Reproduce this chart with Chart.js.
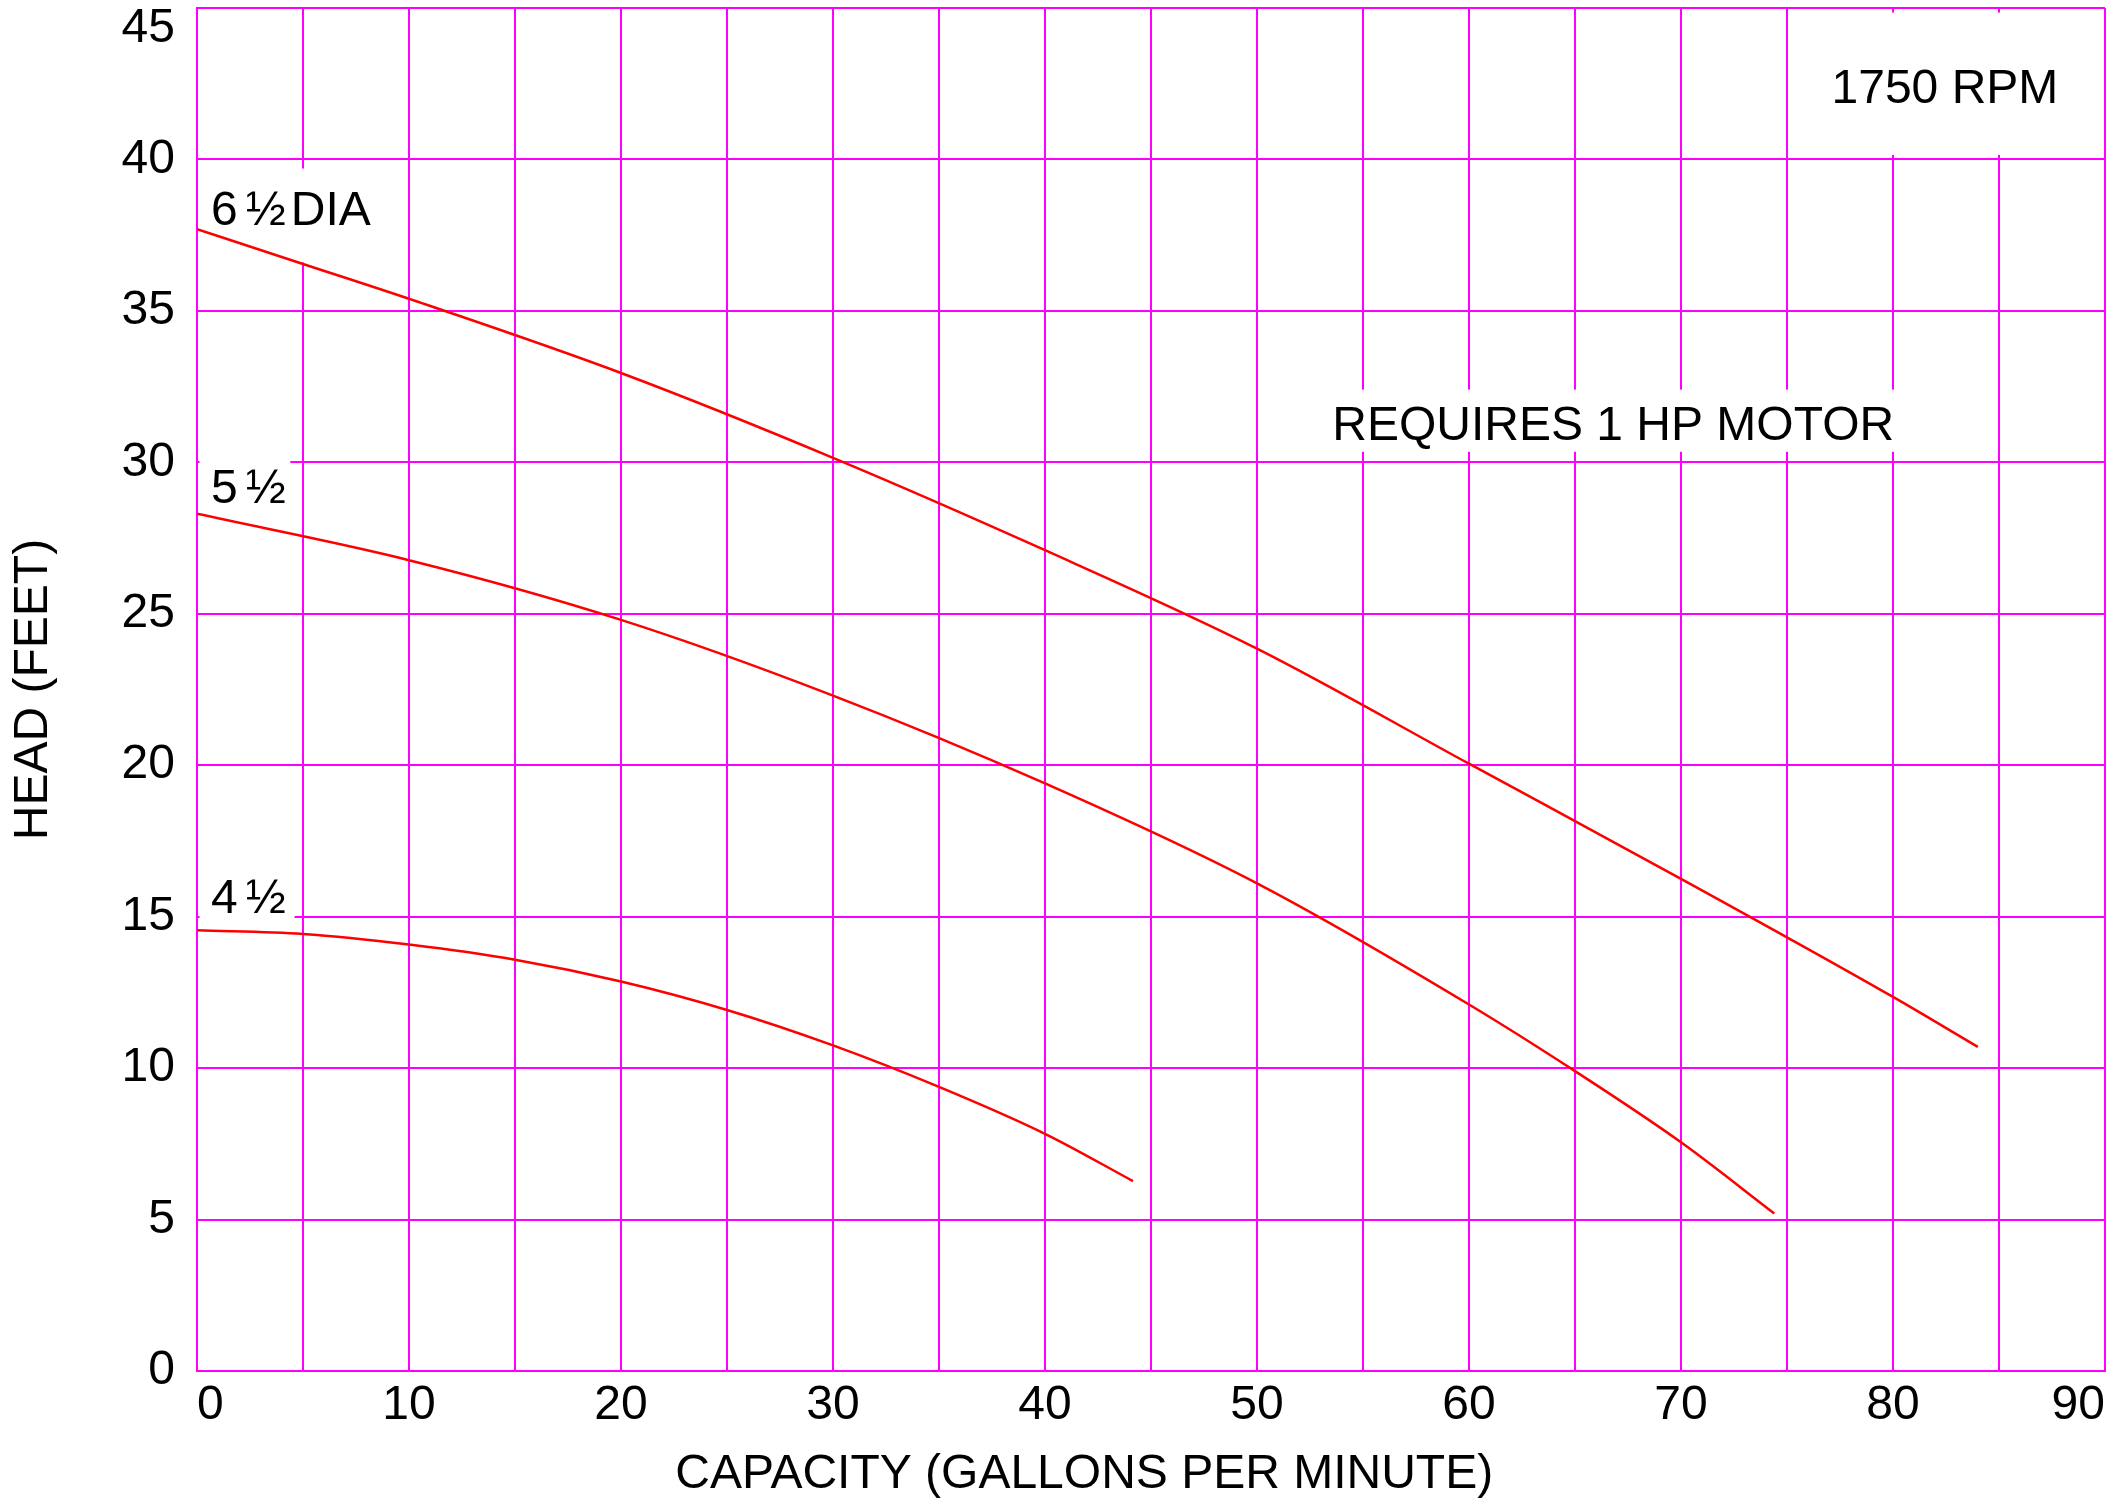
<!DOCTYPE html>
<html>
<head>
<meta charset="utf-8">
<script src="https://cdn.jsdelivr.net/npm/chart.js@4/dist/chart.umd.min.js"></script>
<style>
  html, body { margin: 0; padding: 0; background: #fff; }
  #wrap { width: 2112px; height: 1502px; }
</style>
</head>
<body>
<div id="wrap"><canvas id="chart"></canvas></div>
<script>
// pump curves, capacity (gpm) vs head (ft)
var gpm65 = [0, 5, 10, 20, 30, 40, 50, 60, 70, 80, 84.0];
var head65 = [37.7, 36.55, 35.4, 32.95, 30.15, 27.1, 23.85, 20.05, 16.25, 12.35, 10.7];
var gpm55 = [0, 10, 20, 30, 40, 50, 60, 65, 70, 74.4];
var head55 = [28.3, 26.77, 24.8, 22.3, 19.4, 16.1, 12.1, 9.9, 7.55, 5.2];
var gpm45 = [0, 5, 10, 15, 20, 25, 30, 35, 40, 44.15];
var head45 = [14.55, 14.43, 14.08, 13.58, 12.86, 11.92, 10.75, 9.38, 7.83, 6.27];

var xTicks = [0, 10, 20, 30, 40, 50, 60, 70, 80, 90];
var yTicks = [0, 5, 10, 15, 20, 25, 30, 35, 40, 45];

var FONT = '"Liberation Sans", Arial, sans-serif';
var MAGENTA = '#ff00ff';
var RED = '#ff0000';

function points(xs, ys) {
  return xs.map(function (v, i) { return { x: v, y: ys[i] }; });
}

// white patches where the sheet leaves the grid open for its labels [x0, x1, y0, y1]
var gridGaps = [
  [0.12, 9.0, 36.6, 39.7],
  [0.12, 4.4, 29.5, 30.5],
  [0.12, 4.6, 14.7, 15.5],
  [52.8, 80.4, 30.35, 32.4],
  [75.5, 89.8, 40.15, 44.85]
];

// in-plot notes: parts of text with gap (px) before each part, anchored at data x/y (baseline)
var notes = [
  { x: 0.66, y: 37.83, parts: [['6', 0], ['\u00bd', 8], ['DIA', 5]] },
  { x: 0.66, y: 28.66, parts: [['5', 0], ['\u00bd', 8]] },
  { x: 0.66, y: 15.12, parts: [['4', 0], ['\u00bd', 8]] },
  { x: 53.55, y: 30.74, parts: [['REQUIRES 1 HP MOTOR', 0]] },
  { x: 77.1, y: 41.86, parts: [['1750 RPM', 0]] }
];

var notesPlugin = {
  id: 'notes',
  beforeDatasetsDraw: function (chart) {
    var xs = chart.scales.x, ys = chart.scales.y, ctx = chart.ctx;
    ctx.save();
    ctx.fillStyle = '#ffffff';
    gridGaps.forEach(function (g) {
      var l = xs.getPixelForValue(g[0]), r = xs.getPixelForValue(g[1]);
      var t = ys.getPixelForValue(g[3]), b = ys.getPixelForValue(g[2]);
      ctx.fillRect(l, t, r - l, b - t);
    });
    ctx.restore();
  },
  afterDatasetsDraw: function (chart) {
    var xs = chart.scales.x, ys = chart.scales.y, ctx = chart.ctx;
    ctx.save();
    ctx.fillStyle = '#000000';
    ctx.font = '48px ' + FONT;
    ctx.textAlign = 'left';
    ctx.textBaseline = 'alphabetic';
    notes.forEach(function (n) {
      var px = xs.getPixelForValue(n.x), py = ys.getPixelForValue(n.y);
      n.parts.forEach(function (p) {
        px += p[1];
        ctx.fillText(p[0], px, py);
        px += ctx.measureText(p[0]).width;
      });
    });
    // x axis title, placed as on the sheet (a bit left of the plot centre)
    ctx.textAlign = 'center';
    ctx.fillText('CAPACITY (GALLONS PER MINUTE)', xs.getPixelForValue(41.85), 1488);
    ctx.restore();
  }
};

new Chart(document.getElementById('chart'), {
  type: 'line',
  data: {
    datasets: [
      { label: '6 1/2 DIA', data: points(gpm65, head65) },
      { label: '5 1/2', data: points(gpm55, head55) },
      { label: '4 1/2', data: points(gpm45, head45) }
    ]
  },
  options: {
    responsive: true,
    maintainAspectRatio: false,
    animation: false,
    devicePixelRatio: 1,
    layout: { padding: { left: 0, top: 8, right: 7, bottom: 0 } },
    elements: {
      point: { radius: 0 },
      line: { borderColor: RED, borderWidth: 2.5, cubicInterpolationMode: 'monotone', fill: false }
    },
    plugins: {
      legend: { display: false },
      tooltip: { enabled: false }
    },
    scales: {
      x: {
        type: 'linear',
        min: 0,
        max: 90,
        grid: { color: MAGENTA, lineWidth: 2, drawTicks: false },
        border: { color: MAGENTA, width: 2 },
        ticks: {
          stepSize: 5,
          align: 'inner',
          padding: 6,
          color: '#000',
          font: { family: FONT, size: 48 },
          callback: function (v) { return xTicks.indexOf(v) >= 0 ? String(v) : ''; }
        },
        afterFit: function (s) { s.height = 131; s.paddingLeft = 0; s.paddingRight = 0; }
      },
      y: {
        type: 'linear',
        min: 0,
        max: 45,
        grid: { color: MAGENTA, lineWidth: 2, drawTicks: false },
        border: { color: MAGENTA, width: 2 },
        ticks: {
          stepSize: 5,
          padding: 22,
          color: '#000',
          font: { family: FONT, size: 48, lineHeight: 0.85 },
          callback: function (v) {
            if (yTicks.indexOf(v) < 0) return '';
            // top label sits below the top line, as on the sheet
            return v === 45 ? ['', String(v)] : String(v);
          }
        },
        title: {
          display: true,
          text: 'HEAD (FEET)',
          color: '#000',
          font: { family: FONT, size: 48 },
          padding: { top: 5, bottom: 0 }
        },
        afterFit: function (s) { s.width = 197; s.paddingTop = 0; s.paddingBottom = 0; }
      }
    }
  },
  plugins: [notesPlugin]
});
</script>
</body>
</html>
